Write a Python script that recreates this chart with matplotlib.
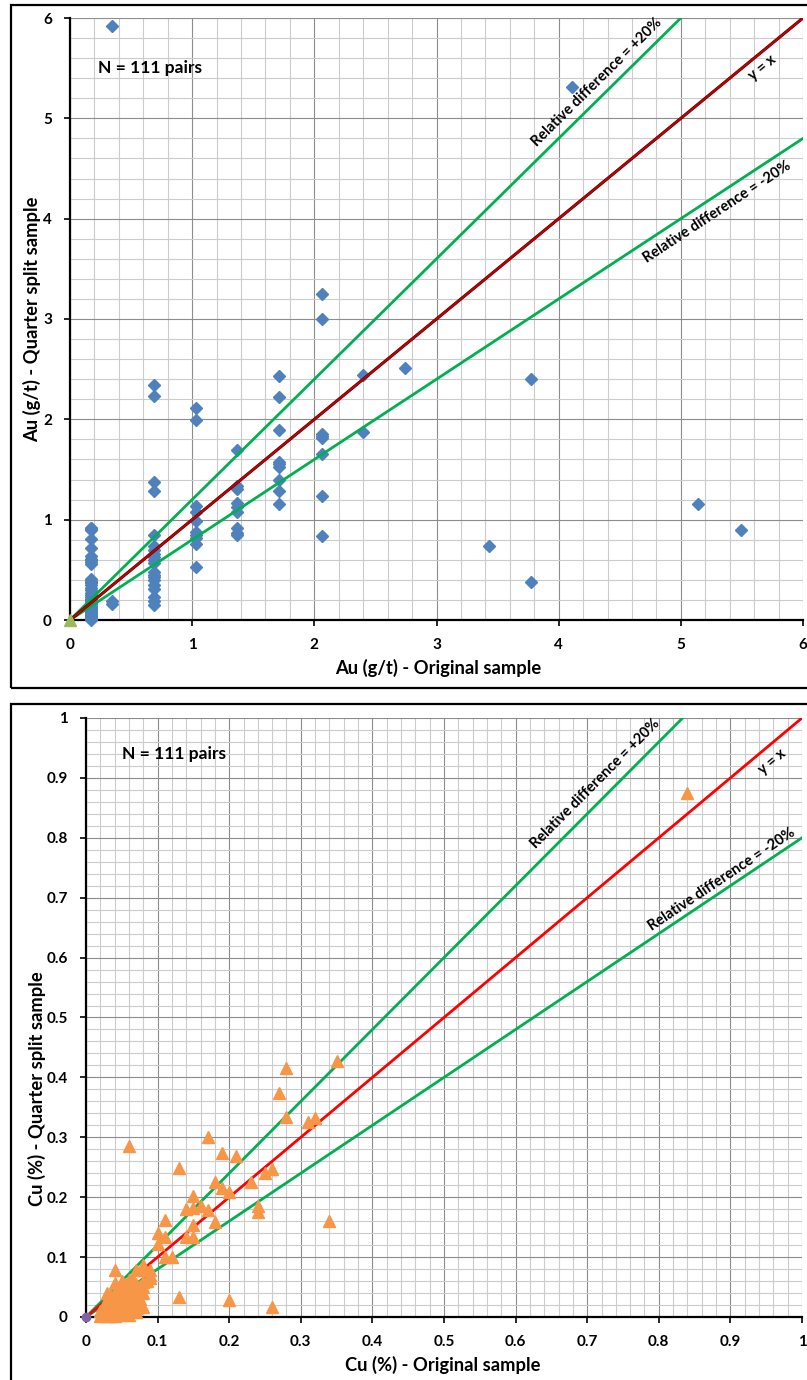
import matplotlib
matplotlib.use("Agg")
import matplotlib.pyplot as plt
from matplotlib.patches import Rectangle
from matplotlib.ticker import MultipleLocator, FuncFormatter
import numpy as np

plt.rcParams['font.family'] = ['Lato', 'DejaVu Sans']

# ---------------- Data: Au (g/t) ----------------
au_original = [
    0.17, 0.17, 0.17, 0.17, 0.17, 0.17, 0.17, 0.17, 0.17, 0.17,
    0.17, 0.17, 0.17, 0.17, 0.17, 0.17, 0.17, 0.17, 0.17, 0.17,
    0.17, 0.17, 0.17, 0.17, 0.17, 0.17, 0.17, 0.17, 0.17, 0.17,
    0.17, 0.17, 0.17, 0.17, 0.17, 0.17, 0.17, 0.17, 0.17, 0.17,
    0.17, 0.17, 0.17,
    0.34, 0.34, 0.34,
    0.69, 0.69, 0.69, 0.69, 0.69, 0.69, 0.69, 0.69, 0.69, 0.69,
    0.69, 0.69, 0.69, 0.69, 0.69, 0.69, 0.69, 0.69, 0.69, 0.69,
    1.03, 1.03, 1.03, 1.03, 1.03, 1.03, 1.03, 1.03, 1.03, 1.03,
    1.37, 1.37, 1.37, 1.37, 1.37, 1.37, 1.37, 1.37, 1.37,
    1.71, 1.71, 1.71, 1.71, 1.71, 1.71, 1.71, 1.71, 1.71,
    2.06, 2.06, 2.06, 2.06, 2.06, 2.06, 2.06, 2.06,
    2.40, 2.40, 2.74, 3.43, 3.77, 3.77, 4.11, 5.14, 5.49,
]
au_quarter = [
    0.92, 0.91, 0.90, 0.81, 0.72, 0.64, 0.61, 0.58, 0.56, 0.41,
    0.39, 0.37, 0.35, 0.32, 0.30, 0.27, 0.25, 0.23, 0.21, 0.19,
    0.17, 0.16, 0.14, 0.13, 0.11, 0.10, 0.09, 0.08, 0.07, 0.06,
    0.05, 0.04, 0.03, 0.02, 0.01, 0.00, 0.02, 0.05, 0.12, 0.20,
    0.38, 0.60, 0.92,
    5.92, 0.19, 0.16,
    2.34, 2.23, 1.38, 1.29, 0.85, 0.74, 0.70, 0.66, 0.63, 0.60,
    0.57, 0.48, 0.45, 0.43, 0.40, 0.35, 0.31, 0.23, 0.19, 0.15,
    2.11, 1.99, 1.14, 1.08, 0.99, 0.88, 0.85, 0.82, 0.76, 0.53,
    1.69, 1.34, 1.31, 1.17, 1.13, 1.08, 0.92, 0.87, 0.85,
    2.43, 2.22, 1.89, 1.57, 1.55, 1.52, 1.40, 1.29, 1.16,
    3.25, 3.00, 1.85, 1.83, 1.81, 1.65, 1.24, 0.84,
    2.44, 1.87, 2.51, 0.74, 2.40, 0.38, 5.31, 1.16, 0.90,
]

# ---------------- Data: Cu (%) ----------------
cu_original = [
    0.06, 0.13, 0.17, 0.19, 0.21, 0.28, 0.27, 0.28, 0.31, 0.32, 0.35, 0.84,
    0.18, 0.19, 0.20, 0.23, 0.25, 0.26, 0.15, 0.14, 0.15, 0.16, 0.17, 0.18,
    0.24, 0.24, 0.34,
    0.11, 0.10, 0.11, 0.10, 0.14, 0.15, 0.15, 0.11, 0.12, 0.13, 0.20, 0.26,
    0.04, 0.04, 0.05, 0.07, 0.08, 0.09, 0.08, 0.09, 0.06, 0.07, 0.08,
    0.02, 0.02, 0.025, 0.03, 0.03, 0.03, 0.03, 0.03, 0.03, 0.035, 0.035,
    0.04, 0.04, 0.04, 0.04, 0.04, 0.04, 0.04, 0.04, 0.045, 0.045,
    0.05, 0.05, 0.05, 0.05, 0.05, 0.05, 0.055, 0.06, 0.06, 0.06, 0.06,
    0.06, 0.06, 0.06, 0.065, 0.065, 0.07, 0.07, 0.07, 0.07, 0.07, 0.075,
    0.08, 0.08, 0.08, 0.035, 0.045, 0.055, 0.065, 0.03, 0.035, 0.045,
    0.055, 0.025, 0.075, 0.085, 0.09, 0.065, 0.055, 0.05,
]
cu_quarter = [
    0.285, 0.249, 0.300, 0.273, 0.268, 0.416, 0.374, 0.334, 0.325, 0.332, 0.428, 0.875,
    0.226, 0.215, 0.208, 0.225, 0.240, 0.247, 0.202, 0.180, 0.182, 0.185, 0.179, 0.159,
    0.186, 0.176, 0.161,
    0.162, 0.140, 0.134, 0.122, 0.133, 0.133, 0.154, 0.100, 0.100, 0.034, 0.029, 0.017,
    0.079, 0.056, 0.056, 0.078, 0.087, 0.078, 0.059, 0.070, 0.061, 0.055, 0.078,
    0.002, 0.010, 0.005, 0.002, 0.008, 0.015, 0.022, 0.030, 0.004, 0.012, 0.020,
    0.002, 0.006, 0.010, 0.014, 0.018, 0.025, 0.032, 0.040, 0.005, 0.028,
    0.003, 0.012, 0.020, 0.030, 0.040, 0.048, 0.015, 0.004, 0.010, 0.018, 0.025,
    0.033, 0.040, 0.050, 0.022, 0.035, 0.008, 0.015, 0.025, 0.034, 0.045, 0.030,
    0.017, 0.040, 0.050, 0.001, 0.016, 0.030, 0.045, 0.040, 0.035, 0.045,
    0.008, 0.018, 0.052, 0.060, 0.065, 0.060, 0.055, 0.060,
]

n_label = "N = 111 pairs"
plus_label = "Relative difference = +20%"
minus_label = "Relative difference = -20%"
yx_label = "y = x"

W, H = 807, 1380
fig = plt.figure(figsize=(W / 100, H / 100), dpi=100)

GREEN = '#00B050'
MAJ = '#8C8C8C'
MIN = '#CBCBCB'


def fx(px):
    return px / W


def fy(py):
    return 1 - py / H


def style_axes(ax, lim, major, minor, fmt):
    ax.set_xlim(0, lim)
    ax.set_ylim(0, lim)
    ax.xaxis.set_major_locator(MultipleLocator(major))
    ax.yaxis.set_major_locator(MultipleLocator(major))
    ax.xaxis.set_minor_locator(MultipleLocator(minor))
    ax.yaxis.set_minor_locator(MultipleLocator(minor))
    ax.grid(which='minor', color=MIN, lw=0.8, zorder=0)
    ax.grid(which='major', color=MAJ, lw=0.8, zorder=0)
    ax.set_axisbelow(True)
    for s in ['top', 'right']:
        ax.spines[s].set_visible(False)
    for s in ['left', 'bottom']:
        ax.spines[s].set_linewidth(1.6)
        ax.spines[s].set_color('black')
    ax.tick_params(which='major', direction='out', length=4, width=1.2,
                   labelsize=11, pad=9)
    ax.tick_params(which='minor', length=0)
    ax.xaxis.set_major_formatter(FuncFormatter(fmt))
    ax.yaxis.set_major_formatter(FuncFormatter(fmt))
    for lab in ax.get_xticklabels() + ax.get_yticklabels():
        lab.set_fontweight('bold')


def fmt_general(v, pos):
    s = f"{v:.1f}"
    if s.endswith('.0'):
        s = s[:-2]
    return s


def angle(ax, slope, lim):
    bb = ax.get_window_extent()
    return np.degrees(np.arctan(slope * (bb.height / lim) / (bb.width / lim)))


ANN = 10.5

# ---------------- Top panel ----------------
fig.patches.append(Rectangle((fx(11), fy(688)), fx(830) - fx(11), fy(5) - fy(688),
                             transform=fig.transFigure, fill=False, ec='black', lw=1.6))
ax1 = fig.add_axes([fx(70), fy(620), fx(803) - fx(70), fy(18) - fy(620)])
style_axes(ax1, 6, 1, 0.2, fmt_general)
ax1.plot(au_original, au_quarter, linestyle='none', marker='D', ms=6.2,
         color='#4F81BD', mec='#4F81BD', zorder=3, clip_on=False)
xs = np.array([0, 6])
ax1.plot(xs, 1.2 * xs, color=GREEN, lw=2.0, zorder=4)
ax1.plot(xs, 0.8 * xs, color=GREEN, lw=2.0, zorder=4)
ax1.plot(xs, xs, color='#400000', lw=2.2, zorder=4)
ax1.plot(xs, xs, color='#C00000', lw=1.5, zorder=5)
ax1.plot([0], [0], linestyle='none', marker='^', ms=9, color='#9BBB59', zorder=6, clip_on=False)
ax1.text(0.23, 5.5, n_label, fontsize=12.5, fontweight='bold', ha='left', va='center')
ax1.text(4.31, 5.36, plus_label, fontsize=ANN, fontweight='bold', ha='center', va='center',
         rotation=angle(ax1, 1.2, 6), rotation_mode='anchor')
ax1.text(5.30, 4.07, minus_label, fontsize=ANN, fontweight='bold', ha='center', va='center',
         rotation=angle(ax1, 0.8, 6), rotation_mode='anchor')
ax1.text(5.67, 5.50, yx_label, fontsize=ANN, fontweight='bold', ha='center', va='center',
         rotation=angle(ax1, 1.0, 6), rotation_mode='anchor')
fig.text(fx(438), fy(668), "Au (g/t) - Original sample", fontsize=13.2, fontweight='bold',
         ha='center', va='center')
fig.text(fx(32), fy(319), "Au (g/t) - Quarter split sample", fontsize=13.2, fontweight='bold',
         ha='center', va='center', rotation=90)

# ---------------- Bottom panel ----------------
fig.patches.append(Rectangle((fx(11), fy(1400)), fx(830) - fx(11), fy(704) - fy(1400),
                             transform=fig.transFigure, fill=False, ec='black', lw=1.6))
ax2 = fig.add_axes([fx(86), fy(1317), fx(802) - fx(86), fy(718) - fy(1317)])
style_axes(ax2, 1, 0.1, 0.02, fmt_general)
xs = np.array([0, 1])
ax2.plot(xs, 1.2 * xs, color=GREEN, lw=2.0, zorder=3)
ax2.plot(xs, 0.8 * xs, color=GREEN, lw=2.0, zorder=3)
ax2.plot(xs, xs, color='#FF0000', lw=2.0, zorder=3)
ax2.plot(cu_original, cu_quarter, linestyle='none', marker='^', ms=8,
         color='#F79646', mec='#F79646', zorder=4, clip_on=False)
ax2.plot([0], [0], linestyle='none', marker='o', ms=6, color='#8064A2', zorder=6, clip_on=False)
ax2.text(0.05, 0.94, n_label, fontsize=12.5, fontweight='bold', ha='left', va='center')
ax2.text(0.712, 0.89, plus_label, fontsize=ANN, fontweight='bold', ha='center', va='center',
         rotation=angle(ax2, 1.2, 1), rotation_mode='anchor')
ax2.text(0.888, 0.731, minus_label, fontsize=ANN, fontweight='bold', ha='center', va='center',
         rotation=angle(ax2, 0.8, 1), rotation_mode='anchor')
ax2.text(0.959, 0.927, yx_label, fontsize=ANN, fontweight='bold', ha='center', va='center',
         rotation=angle(ax2, 1.0, 1), rotation_mode='anchor')
fig.text(fx(443), fy(1365), "Cu (%) - Original sample", fontsize=13.2, fontweight='bold',
         ha='center', va='center')
fig.text(fx(37), fy(1089), "Cu (%) - Quarter split sample", fontsize=13.2, fontweight='bold',
         ha='center', va='center', rotation=90)

fig.savefig("out.png", dpi=100, facecolor='white')
